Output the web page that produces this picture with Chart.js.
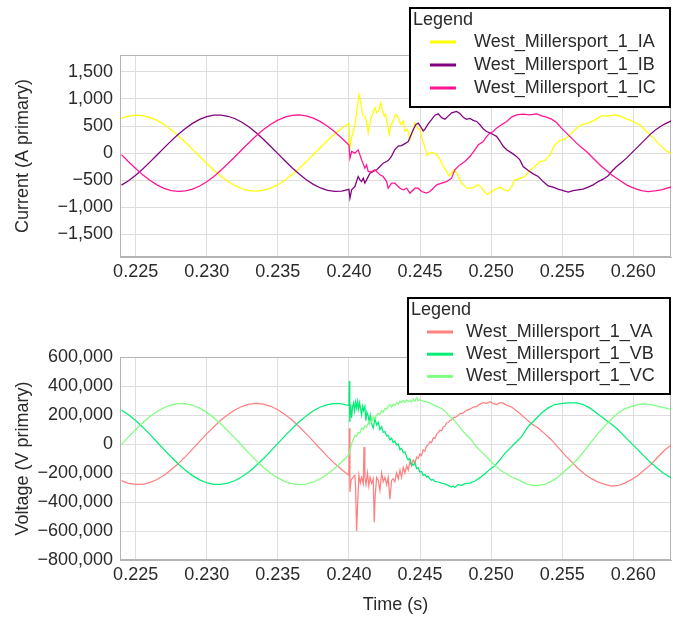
<!DOCTYPE html>
<html>
<head>
<meta charset="utf-8">
<title>West Millersport 1 - currents and voltages</title>
<script src="https://cdn.jsdelivr.net/npm/chart.js@4.4.0/dist/chart.umd.min.js"></script>
<style>
  body { margin: 0; background: #fff; }
  .panel { position: absolute; left: 0; width: 673px; }
</style>
</head>
<body>
<div class="panel" style="top:0;height:290px"><canvas id="current" width="673" height="290"></canvas></div>
<div class="panel" style="top:290px;height:329px"><canvas id="voltage" width="673" height="329"></canvas></div>
<script>
// tick labels
const timeTicks = [0.225, 0.230, 0.235, 0.240, 0.245, 0.250, 0.255, 0.260];
const currentTicks = [-1500, -1000, -500, 0, 500, 1000, 1500];
const voltageTicks = [-800000, -600000, -400000, -200000, 0, 200000, 400000, 600000];

// pre-fault samples (every 0.5 ms), shared by all six traces
const preTime = [0.2240, 0.2245, 0.2250, 0.2255, 0.2260, 0.2265, 0.2270, 0.2275, 0.2280, 0.2285, 0.2290,
  0.2295, 0.2300, 0.2305, 0.2310, 0.2315, 0.2320, 0.2325, 0.2330, 0.2335, 0.2340, 0.2345,
  0.2350, 0.2355, 0.2360, 0.2365, 0.2370, 0.2375, 0.2380, 0.2385, 0.2390, 0.2395, 0.2400];

const iaPre = [640, 682, 700, 692, 660, 605, 528, 432, 322, 200, 70, -61, -191, -314, -426, -522, -600,
  -657, -691, -700, -684, -644, -581, -498, -397, -282, -157, -26, 105, 233, 353, 460, 550];
const ibPre = [-590, -508, -407, -292, -166, -35, 97, 226, 348, 456, 549, 622, 673, 701, 703, 680, 635,
  565, 477, 370, 251, 123, -9, -141, -268, -385, -489, -575, -642, -685, -704, -698, -668];
const icPre = [-27, -158, -284, -400, -501, -585, -649, -689, -705, -696, -662, -605, -526, -429, -316,
  -192, -62, 71, 201, 324, 436, 532, 609, 665, 697, 704, 687, 645, 581, 496, 393, 276, 149];

const vaPre = [-253000, -271000, -279000, -278000, -266000, -245000, -216000, -178000, -135000, -87000,
  -35000, 18000, 70000, 119000, 165000, 204000, 236000, 260000, 275000, 280000, 275000, 260000, 236000,
  204000, 165000, 119000, 70000, 18000, -35000, -87000, -135000, -178000, -216000];
const vbPre = [234000, 202000, 162000, 116000, 66000, 14000, -39000, -90000, -138000, -181000, -218000,
  -247000, -267000, -278000, -279000, -270000, -252000, -224000, -189000, -147000, -100000, -49000, 4000,
  56000, 106000, 153000, 194000, 229000, 255000, 272000, 280000, 277000, 265000];
const vcPre = [-4000, 49000, 100000, 147000, 189000, 224000, 252000, 270000, 279000, 278000, 267000,
  247000, 218000, 181000, 138000, 90000, 39000, -14000, -66000, -116000, -162000, -202000, -234000,
  -259000, -274000, -280000, -276000, -262000, -238000, -207000, -167000, -122000, -73000];

// fault and post-fault samples
const iaTime = [0.24007, 0.24019, 0.24037, 0.24047, 0.24070, 0.24084, 0.24096, 0.24108, 0.24124, 0.24136,
  0.24148, 0.24160, 0.24183, 0.24195, 0.24206, 0.24223, 0.24234, 0.24248, 0.24258, 0.24272,
  0.24283, 0.24295, 0.24311, 0.24328, 0.24342, 0.24354, 0.24366, 0.24382, 0.24394, 0.24413,
  0.24429, 0.24445, 0.24464, 0.24480, 0.24499, 0.24515, 0.24534, 0.24550, 0.24569, 0.24593,
  0.24617, 0.24635, 0.24652, 0.24675, 0.24705, 0.24722, 0.24738, 0.24761, 0.24792, 0.24827,
  0.24851, 0.24874, 0.24909, 0.24933, 0.24968, 0.24991, 0.25026, 0.25062, 0.25085, 0.25120,
  0.25144, 0.25167, 0.25202, 0.25237, 0.25272, 0.25308, 0.25343, 0.25378, 0.25413, 0.25448,
  0.25483, 0.25519, 0.25566, 0.25601, 0.25636, 0.25682, 0.25730, 0.25777, 0.25823, 0.25870,
  0.25905, 0.25952, 0.25999, 0.26046, 0.26093, 0.26140, 0.26186, 0.26222, 0.26270];
const iaAmps = [98, 282, 467, 590, 1081, 928, 712, 682, 590, 374,
  559, 682, 836, 743, 775, 928, 805, 682, 712, 528,
  343, 528, 590, 712, 682, 590, 528, 590, 406, 435,
  251, 374, 559, 467, 435, 250, 110, -40, 5, 5,
  -26, -87, -179, -290, -420, -363, -302, -382, -548, -640,
  -645, -640, -579, -640, -763, -732, -671, -628, -671, -700,
  -616, -493, -468, -431, -320, -247, -155, -136, -31, 153,
  233, 258, 369, 461, 522, 553, 614, 688, 688, 707,
  688, 633, 583, 522, 399, 277, 153, 61, -20];

const ibTime = [0.24007, 0.24019, 0.24042, 0.24056, 0.24065, 0.24077, 0.24089, 0.24101, 0.24112, 0.24124,
  0.24148, 0.24171, 0.24195, 0.24218, 0.24241, 0.24265, 0.24276, 0.24300, 0.24323, 0.24347,
  0.24370, 0.24394, 0.24417, 0.24429, 0.24452, 0.24471, 0.24487, 0.24504, 0.24522, 0.24534,
  0.24557, 0.24581, 0.24605, 0.24628, 0.24652, 0.24675, 0.24698, 0.24722, 0.24757, 0.24780,
  0.24804, 0.24827, 0.24851, 0.24874, 0.24898, 0.24921, 0.24944, 0.24968, 0.24991, 0.25014,
  0.25038, 0.25062, 0.25085, 0.25109, 0.25144, 0.25179, 0.25202, 0.25225, 0.25261, 0.25296,
  0.25331, 0.25366, 0.25401, 0.25436, 0.25471, 0.25507, 0.25542, 0.25577, 0.25612, 0.25647,
  0.25682, 0.25717, 0.25753, 0.25788, 0.25823, 0.25847, 0.25882, 0.25917, 0.25952, 0.25987,
  0.26023, 0.26058, 0.26093, 0.26128, 0.26163, 0.26198, 0.26233, 0.26270];
const ibAmps = [-830, -677, -616, -500, -431, -493, -524, -462, -554, -493,
  -369, -339, -308, -247, -185, -155, -136, -55, 66, 129,
  140, 175, 214, 290, 430, 530, 553, 491, 410, 440,
  540, 620, 700, 725, 655, 625, 682, 743, 770, 730,
  660, 625, 640, 605, 585, 525, 450, 400, 375, 345,
  310, 220, 127, 63, 5, -60, -124, -247, -321, -382,
  -431, -524, -603, -627, -664, -690, -720, -690, -677, -664,
  -627, -585, -524, -480, -419, -339, -247, -173, -92, 0,
  92, 185, 277, 369, 443, 504, 553, 600];

const icTime = [0.24007, 0.24019, 0.24042, 0.24065, 0.24089, 0.24112, 0.24124, 0.24136, 0.24160, 0.24183,
  0.24218, 0.24241, 0.24265, 0.24276, 0.24300, 0.24323, 0.24359, 0.24382, 0.24406, 0.24429,
  0.24464, 0.24487, 0.24511, 0.24546, 0.24569, 0.24593, 0.24617, 0.24652, 0.24687, 0.24722,
  0.24745, 0.24780, 0.24815, 0.24851, 0.24886, 0.24909, 0.24944, 0.24968, 0.24991, 0.25014,
  0.25038, 0.25073, 0.25109, 0.25144, 0.25179, 0.25225, 0.25272, 0.25320, 0.25355, 0.25390,
  0.25425, 0.25460, 0.25495, 0.25530, 0.25566, 0.25601, 0.25636, 0.25671, 0.25706, 0.25741,
  0.25777, 0.25812, 0.25847, 0.25882, 0.25917, 0.25952, 0.25987, 0.26023, 0.26058, 0.26104,
  0.26151, 0.26198, 0.26270];
const icAmps = [-92, 30, 0, 61, -124, -277, -216, -339, -339, -308,
  -400, -431, -524, -646, -554, -554, -646, -677, -646, -738,
  -646, -646, -708, -738, -708, -646, -585, -554, -524, -462,
  -308, -216, -155, -62, 61, 153, 214, 306, 369, 399,
  461, 522, 583, 664, 707, 720, 707, 725, 688, 664,
  627, 565, 461, 369, 277, 185, 104, 30, -62, -155,
  -247, -320, -400, -462, -524, -585, -627, -664, -690, -708,
  -696, -677, -620];

const vaTime = [0.24003, 0.24007, 0.24015, 0.24030, 0.24042, 0.24047, 0.24054, 0.24061, 0.24070, 0.24080,
  0.24089, 0.24101, 0.24106, 0.24112, 0.24120, 0.24130, 0.24140, 0.24148, 0.24160, 0.24171,
  0.24178, 0.24185, 0.24195, 0.24206, 0.24218, 0.24230, 0.24241, 0.24253, 0.24265, 0.24276,
  0.24288, 0.24300, 0.24311, 0.24323, 0.24335, 0.24347, 0.24359, 0.24370, 0.24382, 0.24394,
  0.24406, 0.24417, 0.24429, 0.24440, 0.24452, 0.24464, 0.24476, 0.24487, 0.24499, 0.24511,
  0.24522, 0.24534, 0.24546, 0.24557, 0.24569, 0.24581, 0.24593, 0.24605, 0.24617, 0.24628,
  0.24640, 0.24652, 0.24663, 0.24675, 0.24687, 0.24698, 0.24710, 0.24722, 0.24733, 0.24757,
  0.24780, 0.24804, 0.24827, 0.24851, 0.24874, 0.24898, 0.24921, 0.24944, 0.24968, 0.24991,
  0.25014, 0.25038, 0.25062, 0.25085, 0.25109, 0.25144, 0.25190, 0.25237, 0.25284, 0.25331,
  0.25378, 0.25425, 0.25471, 0.25519, 0.25566, 0.25612, 0.25659, 0.25706, 0.25753, 0.25800,
  0.25847, 0.25893, 0.25940, 0.25987, 0.26034, 0.26081, 0.26128, 0.26174, 0.26222, 0.26270];
const vaVolts = [109000, -330000, -250000, -228000, -216000, -300000, -600000, -420000, -215000, -270000,
  -230000, -274000, -20000, -230000, -280000, -200000, -290000, -230000, -270000, -240000,
  -540000, -350000, -230000, -250000, -320000, -200000, -260000, -230000, -280000, -230000,
  -380000, -250000, -240000, -260000, -200000, -240000, -180000, -230000, -160000, -200000,
  -150000, -180000, -120000, -150000, -110000, -130000, -90000, -100000, -70000, -80000,
  -40000, -50000, -15000, -8000, 15000, 10000, 42000, 38000, 68000, 78000,
  95000, 92000, 118000, 122000, 145000, 148000, 162000, 165000, 180000, 188000,
  208000, 215000, 232000, 240000, 255000, 258000, 275000, 285000, 280000, 292000,
  280000, 272000, 285000, 282000, 268000, 255000, 220000, 180000, 140000, 110000,
  70000, 28000, -23000, -77000, -123000, -169000, -209000, -239000, -263000, -279000,
  -291000, -286000, -270000, -246000, -216000, -176000, -139000, -88000, -42000, -5000];

const vbTime = [0.24003, 0.24006, 0.24012, 0.24019, 0.24026, 0.24033, 0.24040, 0.24047, 0.24054, 0.24061,
  0.24068, 0.24075, 0.24089, 0.24096, 0.24103, 0.24112, 0.24119, 0.24126, 0.24136, 0.24143,
  0.24150, 0.24160, 0.24171, 0.24183, 0.24195, 0.24206, 0.24218, 0.24230, 0.24241, 0.24253,
  0.24265, 0.24276, 0.24288, 0.24300, 0.24311, 0.24323, 0.24335, 0.24347, 0.24359, 0.24370,
  0.24382, 0.24394, 0.24406, 0.24417, 0.24429, 0.24440, 0.24452, 0.24464, 0.24476, 0.24487,
  0.24499, 0.24511, 0.24522, 0.24534, 0.24546, 0.24557, 0.24569, 0.24581, 0.24593, 0.24605,
  0.24628, 0.24652, 0.24675, 0.24698, 0.24722, 0.24733, 0.24745, 0.24768, 0.24792, 0.24815,
  0.24851, 0.24886, 0.24921, 0.24956, 0.24991, 0.25026, 0.25062, 0.25097, 0.25132, 0.25167,
  0.25214, 0.25261, 0.25308, 0.25355, 0.25401, 0.25448, 0.25495, 0.25542, 0.25601, 0.25647,
  0.25694, 0.25741, 0.25788, 0.25835, 0.25882, 0.25928, 0.25975, 0.26023, 0.26069, 0.26116,
  0.26163, 0.26210, 0.26270];
const vbVolts = [434000, 150000, 272000, 179000, 260000, 284000, 230000, 290000, 250000, 295000,
  240000, 285000, 202000, 260000, 230000, 260000, 160000, 220000, 190000, 150000,
  200000, 140000, 110000, 175000, 130000, 150000, 100000, 120000, 80000, 86000,
  55000, 60000, 28000, 40000, 10000, 20000, -7000, 0, -40000, -30000,
  -60000, -55000, -90000, -110000, -100000, -140000, -146000, -130000, -170000, -165000,
  -193000, -190000, -216000, -210000, -228000, -222000, -240000, -250000, -245000, -258000,
  -262000, -270000, -275000, -285000, -297000, -290000, -300000, -280000, -285000, -274000,
  -270000, -255000, -232000, -205000, -175000, -150000, -110000, -65000, -30000, 5000,
  51000, 121000, 167000, 214000, 249000, 272000, 279000, 284000, 284000, 272000,
  249000, 214000, 179000, 144000, 109000, 63000, 16000, -30000, -77000, -123000,
  -162000, -200000, -235000];

const vcTime = [0.24007, 0.24019, 0.24030, 0.24042, 0.24054, 0.24066, 0.24077, 0.24089, 0.24101, 0.24112,
  0.24124, 0.24136, 0.24148, 0.24160, 0.24171, 0.24183, 0.24195, 0.24206, 0.24218, 0.24230,
  0.24241, 0.24253, 0.24265, 0.24276, 0.24288, 0.24300, 0.24311, 0.24323, 0.24335, 0.24347,
  0.24359, 0.24370, 0.24382, 0.24394, 0.24406, 0.24417, 0.24429, 0.24440, 0.24452, 0.24464,
  0.24476, 0.24487, 0.24499, 0.24522, 0.24546, 0.24569, 0.24593, 0.24617, 0.24640, 0.24663,
  0.24687, 0.24710, 0.24733, 0.24757, 0.24780, 0.24804, 0.24827, 0.24851, 0.24874, 0.24898,
  0.24921, 0.24944, 0.24968, 0.24991, 0.25014, 0.25038, 0.25062, 0.25085, 0.25144, 0.25190,
  0.25237, 0.25284, 0.25331, 0.25378, 0.25425, 0.25471, 0.25519, 0.25566, 0.25612, 0.25659,
  0.25706, 0.25753, 0.25800, 0.25847, 0.25893, 0.25940, 0.25987, 0.26034, 0.26081, 0.26128,
  0.26174, 0.26222, 0.26270];
const vcVolts = [-42000, 0, 30000, 60000, 55000, 80000, 75000, 110000, 100000, 125000,
  115000, 145000, 160000, 150000, 185000, 175000, 200000, 210000, 205000, 230000,
  220000, 245000, 240000, 262000, 270000, 255000, 275000, 265000, 285000, 275000,
  295000, 285000, 300000, 288000, 305000, 292000, 300000, 290000, 310000, 295000,
  320000, 298000, 306000, 295000, 290000, 284000, 270000, 260000, 250000, 237000,
  215000, 190000, 170000, 144000, 115000, 86000, 62000, 40000, 10000, -19000,
  -42000, -65000, -88000, -112000, -135000, -158000, -178000, -193000, -228000, -246000,
  -270000, -286000, -286000, -279000, -256000, -228000, -186000, -146000, -100000, -42000,
  16000, 75000, 125000, 172000, 214000, 242000, 260000, 272000, 277000, 272000,
  260000, 249000, 236000];

const fontFamily = '"Liberation Sans", Arial, sans-serif';
const textColor = '#2a2a2a';
const gridColor = '#dedede';
const axisColor = '#b4b4b4';

function toPoints(pre, t, v) {
  return preTime.map((x, i) => ({x: x, y: pre[i]}))
    .concat(t.map((x, i) => ({x: x, y: v[i]})));
}

function fmtNum(v) {
  const s = Math.abs(v).toLocaleString('en-US');
  return v < 0 ? '\u2212' + s : s;
}

function trace(label, color, order, points) {
  return {label: label, data: points, borderColor: color, backgroundColor: color,
    borderWidth: 1.25, pointRadius: 0, tension: 0, fill: false, order: order};
}

// grey frame round the plot area
const frame = {
  id: 'frame',
  beforeDatasetsDraw(chart) {
    const {ctx, chartArea: a} = chart;
    ctx.save();
    ctx.strokeStyle = axisColor;
    ctx.lineWidth = 1;
    ctx.strokeRect(a.left + 0.5, a.top + 0.5, a.width - 1, a.height - 1);
    ctx.restore();
  }
};

// boxed legend that sits over the top right corner
const legendBox = {
  id: 'legendBox',
  afterDraw(chart, args, o) {
    const ctx = chart.ctx;
    ctx.save();
    ctx.fillStyle = '#fff';
    ctx.fillRect(o.x, o.y, o.w, o.h);
    ctx.strokeStyle = '#000';
    ctx.lineWidth = 2;
    ctx.strokeRect(o.x, o.y, o.w, o.h);
    ctx.font = '18px ' + fontFamily;
    ctx.textBaseline = 'middle';
    ctx.textAlign = 'left';
    ctx.fillStyle = textColor;
    ctx.fillText('Legend', o.x + 3, o.y + 12);
    chart.data.datasets.forEach((ds, i) => {
      const cy = o.y + o.first + i * o.step;
      ctx.strokeStyle = ds.borderColor;
      ctx.lineWidth = 3;
      ctx.beginPath();
      ctx.moveTo(o.lineX, cy);
      ctx.lineTo(o.lineX + 26, cy);
      ctx.stroke();
      ctx.fillStyle = textColor;
      ctx.fillText(ds.label, o.textX, cy);
    });
    ctx.restore();
  }
};

function buildOptions(cfg) {
  const font = {family: fontFamily, size: 18};
  return {
    responsive: false,
    animation: false,
    events: [],
    layout: {padding: {top: cfg.top, right: 2, left: 0, bottom: 0}},
    plugins: {
      legend: {display: false},
      tooltip: {enabled: false},
      legendBox: cfg.legend
    },
    scales: {
      x: {
        type: 'linear',
        min: 0.2239,
        max: 0.26265,
        afterBuildTicks: s => { s.ticks = timeTicks.map(v => ({value: v})); },
        afterFit: s => { s.height = cfg.xHeight; },
        ticks: {callback: v => v.toFixed(3), font: font, color: textColor, padding: 4,
          maxRotation: 0, autoSkip: false},
        grid: {color: gridColor, drawTicks: false},
        border: {color: axisColor},
        title: {display: !!cfg.xTitle, text: cfg.xTitle || '', font: font, color: textColor,
          padding: {top: 0, bottom: 3}}
      },
      y: {
        min: cfg.yMin,
        max: cfg.yMax,
        afterBuildTicks: s => { s.ticks = cfg.yTicks.map(v => ({value: v})); },
        afterFit: s => { s.width = 120; },
        ticks: {callback: v => fmtNum(v), font: font, color: textColor, padding: 7, autoSkip: false},
        grid: {color: gridColor, drawTicks: false},
        border: {color: axisColor},
        title: {display: true, text: cfg.yTitle, font: font, color: textColor,
          padding: {top: 12, bottom: 0}}
      }
    }
  };
}

new Chart(document.getElementById('current'), {
  type: 'line',
  data: {
    datasets: [
      trace('West_Millersport_1_IA', '#ffff00', 2, toPoints(iaPre, iaTime, iaAmps)),
      trace('West_Millersport_1_IB', '#800080', 1, toPoints(ibPre, ibTime, ibAmps)),
      trace('West_Millersport_1_IC', '#ff1493', 0, toPoints(icPre, icTime, icAmps))
    ]
  },
  options: buildOptions({
    top: 55, xHeight: 33, yMin: -1915, yMax: 1810, yTicks: currentTicks,
    yTitle: 'Current (A primary)',
    legend: {x: 410, y: 8, w: 260, h: 99, first: 34, step: 23, lineX: 430, textX: 474}
  }),
  plugins: [frame, legendBox]
});

new Chart(document.getElementById('voltage'), {
  type: 'line',
  data: {
    datasets: [
      trace('West_Millersport_1_VA', '#ff8080', 2, toPoints(vaPre, vaTime, vaVolts)),
      trace('West_Millersport_1_VB', '#00ee76', 1, toPoints(vbPre, vbTime, vbVolts)),
      trace('West_Millersport_1_VC', '#80ff80', 0, toPoints(vcPre, vcTime, vcVolts))
    ]
  },
  options: buildOptions({
    top: 67, xHeight: 59, yMin: -800000, yMax: 600000, yTicks: voltageTicks,
    yTitle: 'Voltage (V primary)', xTitle: 'Time (s)',
    legend: {x: 408, y: 8, w: 262, h: 96, first: 34, step: 22.2, lineX: 427, textX: 466}
  }),
  plugins: [frame, legendBox]
});
</script>
</body>
</html>
